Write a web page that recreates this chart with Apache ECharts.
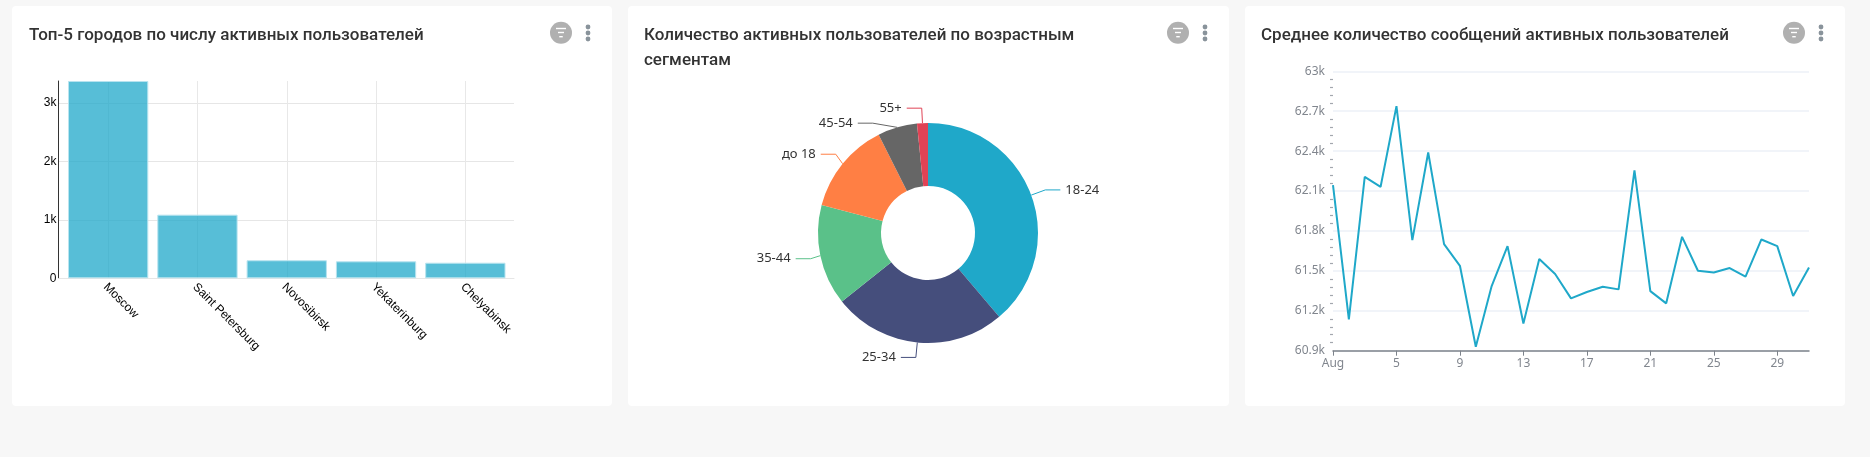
<!DOCTYPE html>
<html><head><meta charset="utf-8">
<style>
html,body{margin:0;padding:0;width:1870px;height:457px;background:#f7f7f7;overflow:hidden}
.card{position:absolute;top:6px;height:400px;background:#fff;border-radius:4px}
#c{position:absolute;left:0;top:0;width:1870px;height:457px}
</style>
<script src="https://cdn.jsdelivr.net/npm/echarts@6/dist/echarts.min.js"></script>
</head><body>
<div class="card" style="left:12px;width:600px"></div>
<div class="card" style="left:628px;width:601px"></div>
<div class="card" style="left:1245px;width:600px"></div>
<div id="c"></div>
<script>
const titles = ['Топ-5 городов по числу активных пользователей',
  'Количество активных пользователей по возрастным\nсегментам',
  'Среднее количество сообщений активных пользователей'];
const cities = ['Moscow','Saint Petersburg','Novosibirsk','Yekaterinburg','Chelyabinsk'];
const cityUsers = [3380,1090,309,291,267];
const ageGroups = ['18-24','25-34','35-44','до 18','45-54','55+'];
const ageUsers = [1940,1275,740,675,290,80];
const ageColors = ['#1fa8c9','#454e7c','#5ac189','#ff7f44','#666666','#e04355'];
const dayLabels = ['Aug','2','3','4','5','6','7','8','9','10','11','12','13','14','15','16','17','18','19','20','21','22','23','24','25','26','27','28','29','30','31'];
const avgMessages = [62144,61135,62207,62132,62738,61731,62390,61701,61538,60930,61386,61686,61105,61589,61476,61293,61341,61381,61361,62255,61348,61256,61756,61501,61488,61521,61456,61736,61686,61311,61526];

const kFmt = v => v === 0 ? '0' : (v/1000) + 'k';
const iconXs = [[561,588],[1178,1205],[1794,1821]];
const titleXs = [24,639,1256];

const icons = [];
iconXs.forEach(([cx,dx])=>{
  icons.push({type:'circle',shape:{cx:cx,cy:32.7,r:11},style:{fill:'#b0b0b0'}});
  [[28.5,10],[32.5,6],[36.7,3.5]].forEach(([y,w])=>icons.push({type:'rect',shape:{x:cx-w/2,y:y-0.7,width:w,height:1.4},style:{fill:'#fff'}}));
  [27,33,39].forEach(y=>icons.push({type:'circle',shape:{cx:dx,cy:y,r:2.4},style:{fill:'#89939b'}}));
});

const chart = echarts.init(document.getElementById('c'),null,{renderer:'canvas'});
chart.setOption({
  backgroundColor:'transparent',
  animation:false,
  title:titles.map((t,i)=>({text:t,left:titleXs[i],top:18,textStyle:{fontFamily:'Roboto',fontSize:17,fontWeight:500,color:'#333',lineHeight:25}})),
  graphic:icons,
  grid:[
    {left:58.5,top:81,width:455.5,height:197.3},
    {left:63.5,top:81,width:446.5,height:197.3},
    {left:1333,top:71.3,width:476,height:279.4}
  ],
  xAxis:[
    {gridIndex:0,type:'value',min:0,max:1,axisLabel:{show:false},axisTick:{show:false},splitLine:{show:false},
      axisLine:{show:true,onZero:false,lineStyle:{color:'#e6e6e6',width:1}}},
    {gridIndex:1,type:'category',data:cities,axisLine:{show:false},axisTick:{show:false},
      splitLine:{show:true,alignWithLabel:true,interval:0,lineStyle:{color:'#e8e8e8',width:1}},
      axisLabel:{interval:0,rotate:-45,margin:4,verticalAlign:'top',lineHeight:8,color:'#000',fontFamily:'Liberation Sans',fontSize:12}},
    {gridIndex:2,type:'category',data:dayLabels,boundaryGap:false,
      axisLine:{lineStyle:{color:'#7d838b',width:1.5}},
      axisTick:{show:true,interval:3,length:5,lineStyle:{color:'#7d838b',width:1}},
      splitLine:{show:false},
      axisLabel:{interval:3,margin:7,color:'#81868e',fontFamily:'Noto Sans',fontSize:12}}
  ],
  yAxis:[
    {gridIndex:0,type:'value',min:0,max:3380,interval:1000,
      axisLine:{show:true,lineStyle:{color:'#333',width:1}},axisTick:{show:false},
      splitLine:{show:true,showMaxLine:false,showMinLine:false,lineStyle:{color:'#e6e6e6',width:1}},
      axisLabel:{margin:2,color:'#000',fontFamily:'Liberation Sans',fontSize:12,formatter:kFmt,showMaxLabel:false}},
    {gridIndex:1,type:'value',min:0,max:3380,show:false,splitLine:{show:false}},
    {gridIndex:2,type:'value',min:60900,max:63000,interval:300,
      axisLine:{show:false},axisTick:{show:false},
      minorTick:{show:true,splitNumber:5,length:3,lineStyle:{color:'#a3a7ae',width:1.2}},
      splitLine:{show:true,lineStyle:{color:'#edf1f7',width:1.5}},
      axisLabel:{margin:8,padding:[0,0,4,0],color:'#81868e',fontFamily:'Noto Sans',fontSize:12,formatter:kFmt}}
  ],
  series:[
    {type:'bar',xAxisIndex:1,yAxisIndex:1,data:cityUsers,barWidth:80.3,clip:true,
      itemStyle:{color:'rgba(31,168,201,0.75)',borderColor:'#b8e4ef',borderWidth:1}},
    {type:'pie',center:[928,233],radius:[47,110],startAngle:90,clockwise:true,
      data:ageGroups.map((n,i)=>({name:n,value:ageUsers[i],itemStyle:{color:ageColors[i]}})),
      label:{formatter:'{b}',color:'#333',fontFamily:'Noto Sans',fontSize:13},
      labelLine:{length:15,length2:15,lineStyle:{width:1}}},
    {type:'line',xAxisIndex:2,yAxisIndex:2,data:avgMessages,symbol:'none',smooth:false,
      lineStyle:{color:'#1fa8c9',width:2}}
  ]
});
</script>
</body></html>
